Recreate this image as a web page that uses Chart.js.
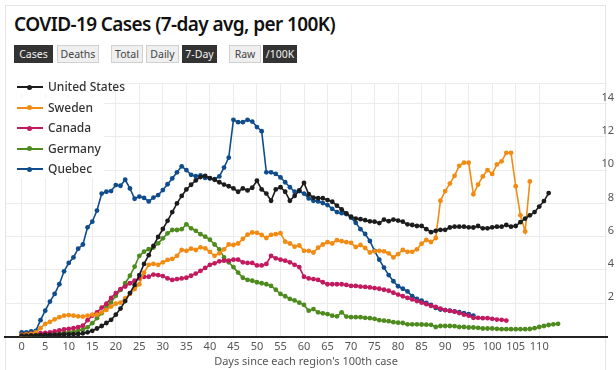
<!DOCTYPE html>
<html><head><meta charset="utf-8">
<script src="https://cdn.jsdelivr.net/npm/chart.js@4.4.0/dist/chart.umd.min.js"></script>
<style>
html,body{margin:0;padding:0;background:#fff;width:616px;height:370px;overflow:hidden;font-family:"Noto Sans",sans-serif;}
#card{position:absolute;left:5px;top:5px;width:601px;height:400px;border:1px solid #e4e4e4;box-sizing:border-box;}
#title{position:absolute;left:14px;top:11px;font-size:19px;font-weight:600;color:#111;white-space:nowrap;line-height:26px;}
.btn{position:absolute;top:45px;height:18px;line-height:16px;font-size:10.5px;text-align:center;box-sizing:border-box;white-space:nowrap;}
.on{background:#333;color:#f2f2f2;border:1px solid #333;}
.off{background:#efefef;color:#444;border:1px solid #d0d0d0;}
#wrap{position:absolute;left:0;top:70px;width:616px;height:300px;}
#legend{position:absolute;left:6px;top:77px;width:98px;height:101px;background:linear-gradient(to bottom,#fff 0,#fff 18px,transparent 18px,transparent 20px,#fff 20px);}
.row{position:absolute;left:0;height:20px;width:98px;}
.sym{position:absolute;left:11px;top:9px;width:26px;height:2px;}
.dot{position:absolute;left:21px;top:7.5px;width:5px;height:5px;border-radius:50%;}
.lab{position:absolute;left:42px;top:0;line-height:20px;font-size:12px;font-weight:500;color:#333;white-space:nowrap;}
</style></head>
<body>
<div id="card"></div>
<div id="title">COVID-19 Cases (7-day avg, per 100K)</div>
<div class="btn on" style="left:14px;width:39px">Cases</div>
<div class="btn off" style="left:57px;width:42px">Deaths</div>
<div class="btn off" style="left:111px;width:32px">Total</div>
<div class="btn off" style="left:146px;width:33px">Daily</div>
<div class="btn on" style="left:182px;width:35px">7-Day</div>
<div class="btn off" style="left:229px;width:32px">Raw</div>
<div class="btn on" style="left:263px;width:34px">/100K</div>
<div id="wrap"><canvas id="c" width="616" height="300"></canvas></div>
<div id="legend"></div>
<script>
const seriesNames = ["United States","Sweden","Canada","Germany","Quebec"];
const seriesColors = ["#1c1c1c","#f28b12","#c2195f","#4e8b1f","#0f4c8c"];
const xTickValues = [0,5,10,15,20,25,30,35,40,45,50,55,60,65,70,75,80,85,90,95,100,105,110];
const yTickValues = [0,2,4,6,8,10,12,14];
const yTop = 15.2;

const unitedStates = [0.05,0.05,0.06,0.07,0.08,0.09,0.1,0.1,0.11,0.12,0.13,0.14,
 0.15,0.19,0.25,0.34,0.48,0.63,0.81,1.0,1.31,1.68,2.13,2.61,3.1,3.69,4.36,4.89,5.44,5.98,6.46,6.95,7.48,8.0,8.45,8.84,9.12,9.38,9.58,9.66,
 9.52,9.42,9.27,9.13,9.03,8.9,8.7,8.9,8.78,8.94,9.36,8.84,8.59,8.16,8.84,8.97,8.7,8.16,8.45,8.78,
 9.23,8.55,8.35,8.31,8.31,8.2,8.1,7.86,7.64,7.4,7.2,7.09,7.05,6.99,6.92,6.9,6.82,7.03,6.93,7.03,
 6.97,6.9,6.74,6.7,6.64,6.64,6.45,6.27,6.35,6.41,6.41,6.55,6.6,6.6,6.6,6.56,6.55,6.64,6.5,6.5,
 6.56,6.6,6.6,6.7,6.6,6.64,6.87,7.09,7.28,7.48,7.81,8.14,8.62];
const sweden = [0.1,0.12,0.15,0.25,0.5,0.75,0.88,1.03,1.16,1.25,
 1.29,1.25,1.21,1.2,1.25,1.31,1.31,1.45,1.6,1.8,
 1.97,2.03,2.29,2.56,2.85,3.14,3.84,4.31,4.36,4.31,
 4.46,4.6,4.66,4.85,5.2,5.15,5.28,5.2,5.36,5.3,
 5.09,4.85,5.0,5.24,5.53,5.5,5.59,5.87,6.12,6.25,
 6.23,6.1,5.92,6.11,6.15,6.21,5.7,5.59,5.4,5.47,
 5.15,5.15,5.05,5.34,5.53,5.67,5.59,5.79,5.73,5.67,
 5.63,5.38,5.5,5.32,5.05,5.12,5.15,5.12,5.0,4.75,
 4.95,5.2,5.09,5.09,5.24,5.58,5.8,5.68,5.92,8.16,
 8.74,9.19,9.66,10.26,10.45,10.45,8.55,9.13,9.62,10.0,
 9.77,10.34,10.53,11.04,11.04,9.03,7.28,6.31,9.32];
const canada = [0.1,0.12,0.15,0.18,0.2,0.22,0.25,0.3,0.36,0.42,
 0.46,0.5,0.56,0.65,0.98,1.25,1.45,1.74,1.97,2.32,
 2.61,2.85,3.0,3.2,3.35,3.49,3.59,3.59,3.72,3.69,
 3.63,3.49,3.4,3.45,3.49,3.53,3.65,3.78,3.95,4.12,
 4.31,4.4,4.52,4.56,4.56,4.62,4.62,4.46,4.42,4.42,
 4.27,4.27,4.36,4.85,4.7,4.62,4.56,4.46,4.31,4.17,
 3.59,3.49,3.45,3.4,3.26,3.14,3.14,3.14,3.14,3.1,
 3.04,3.04,3.0,2.98,2.95,2.91,2.87,2.81,2.75,2.63,
 2.52,2.42,2.32,2.23,2.13,2.03,1.94,1.84,1.78,1.68,
 1.59,1.54,1.49,1.41,1.31,1.25,1.12,1.12,1.1,1.1,
 1.06,1.02,1.0,0.96];
const germany = [0.05,0.05,0.07,0.08,0.1,0.12,0.14,0.16,0.18,0.22,
 0.25,0.28,0.34,0.42,0.55,0.8,1.1,1.4,1.75,2.05,
 2.45,2.8,3.2,3.65,4.2,4.85,5.1,5.25,5.35,5.6,
 5.9,6.2,6.4,6.4,6.45,6.74,6.5,6.35,6.15,6.0,
 5.82,5.53,5.24,4.75,4.46,4.17,3.84,3.53,3.4,3.35,
 3.26,3.2,3.14,3.04,2.81,2.56,2.42,2.26,2.17,2.03,
 1.9,1.55,1.65,1.45,1.39,1.35,1.25,1.21,1.45,1.2,
 1.16,1.16,1.16,1.12,1.1,1.06,0.98,0.95,0.92,0.86,
 0.83,0.81,0.73,0.73,0.73,0.72,0.71,0.7,0.57,0.63,
 0.63,0.63,0.62,0.57,0.57,0.54,0.54,0.52,0.48,0.48,
 0.48,0.46,0.44,0.44,0.44,0.44,0.44,0.44,0.45,0.5,
 0.57,0.63,0.69,0.73,0.76];
const quebec = [0.25,0.25,0.3,0.34,0.98,1.55,2.1,2.56,3.14,3.92,
 4.42,4.75,5.28,5.53,6.56,6.9,7.57,8.59,8.7,8.74,
 9.1,9.06,9.42,8.9,8.28,8.41,8.33,8.12,8.35,8.5,
 8.8,9.15,9.5,9.87,10.23,10.0,9.72,9.63,9.68,9.53,
 9.5,9.46,9.62,10.15,10.75,13.02,12.88,12.88,13.02,12.92,
 12.59,12.34,9.87,9.87,9.77,9.56,9.27,8.97,8.7,8.74,
 8.59,8.3,8.16,8.12,8.02,7.9,7.67,7.48,7.41,7.36,
 7.14,6.83,6.45,6.16,5.74,5.15,4.62,4.14,3.69,3.32,
 3.02,2.87,2.71,2.42,2.26,2.15,2.02,1.9,1.72,1.62,
 1.59,1.55,1.51,1.46,1.4,1.35,1.25];
const seriesValues = [unitedStates, sweden, canada, germany, quebec];

const FONT = '"Noto Sans", sans-serif';

// legend
const legend = document.getElementById('legend');
const rowTops = [0, 20.5, 41, 61.5, 82];
seriesNames.forEach((n,i)=>{
  const r = document.createElement('div');
  r.className='row'; r.style.top = (rowTops[i]) + 'px';
  r.innerHTML = '<div class="sym" style="background:'+seriesColors[i]+'"></div><div class="dot" style="background:'+seriesColors[i]+'"></div><div class="lab">'+n+'</div>';
  legend.appendChild(r);
});

// fit title width
const t = document.getElementById('title');
const w = t.getBoundingClientRect().width;
t.style.letterSpacing = ((321 - w) / t.textContent.length) + 'px';

new Chart(document.getElementById('c'), {
  type: 'line',
  data: {
    datasets: seriesNames.map((n,i)=>({
      label: n,
      data: seriesValues[i].map((v,d)=>({x:d, y:v})),
      borderColor: seriesColors[i],
      backgroundColor: seriesColors[i],
      borderWidth: 1.6,
      pointRadius: 2.4,
      pointHoverRadius: 2.4,
      pointBorderWidth: 0,
      tension: 0,
      fill: false
    }))
  },
  options: {
    responsive: false,
    animation: false,
    events: [],
    plugins: { legend: {display:false}, tooltip: {enabled:false} },
    layout: { padding: {left:5, right:9, top:6, bottom:0} },
    scales: {
      x: {
        type: 'linear', min: -3.55, max: 124.4,
        afterBuildTicks: s => { s.ticks = xTickValues.map(v=>({value:v})); },
        afterFit: s => { s.height = 33.5; },
        grid: { color:'#ececec', drawTicks:false, lineWidth:1 },
        border: { display:true, color:'#222', width:2 },
        ticks: { color:'#555', font:{size:11, family:FONT}, padding:4, autoSkip:false, maxRotation:0 },
        title: { display:true, text:"Days since each region's 100th case", color:'#555', font:{size:11, family:FONT}, padding:{top:1, bottom:2} }
      },
      y: {
        position: 'right', min: 0, max: yTop,
        afterBuildTicks: s => { s.ticks = yTickValues.concat([yTop]).map(v=>({value:v})); },
        afterFit: s => { s.width = 0; },
        grid: { color:'#ececec', drawTicks:false, lineWidth:1 },
        border: { display:false },
        ticks: { mirror:true, padding:7, labelOffset:-6, color:'#555', font:{size:11, family:FONT},
          callback: v => (v > 0 && v < 15) ? String(v) : '' }
      }
    }
  }
});
</script>
</body></html>
